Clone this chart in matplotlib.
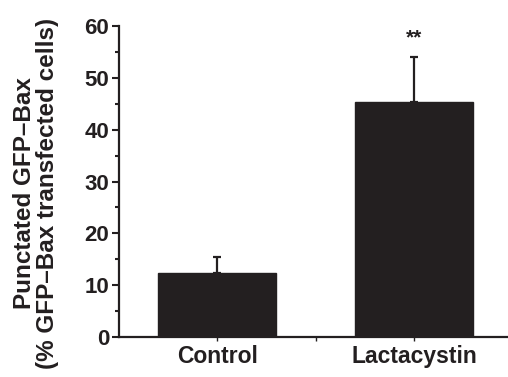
import numpy as np
import matplotlib.pyplot as plt
from matplotlib.ticker import MultipleLocator

plt.rcParams['font.family'] = ['Liberation Sans', 'DejaVu Sans']
plt.rcParams['font.weight'] = 'bold'
plt.rcParams['axes.labelweight'] = 'bold'

# data
groups = ["Control", "Lactacystin"]
means = [12.3, 45.4]
errs = [3.2, 8.6]
stars = ["", "**"]

fig = plt.figure(figsize=(5.08, 3.77), dpi=100)
ax = fig.add_axes([0.234, 0.106, 0.764, 0.825])

x = np.arange(len(groups))
col = "#231f20"
ax.bar(x, means, width=0.6, color=col, edgecolor=col, zorder=2)
ax.errorbar(x, means, yerr=[np.zeros(len(errs)), errs], fmt="none",
            ecolor=col, elinewidth=1.6, capsize=3, capthick=1.6, zorder=1)
for xi, m, e, s in zip(x, means, errs, stars):
    if s:
        ax.text(xi, m + e + 1.8, s, ha="center", va="bottom", fontsize=15, color=col)

ax.set_xlim(-0.5, 1.47)
ax.set_ylim(0, 60)
ax.yaxis.set_major_locator(MultipleLocator(10))
ax.yaxis.set_minor_locator(MultipleLocator(5))
ax.set_xticks([0, 0.5, 1])
ax.set_xticklabels(["Control", "", "Lactacystin"])
ax.tick_params(axis="x", length=3, width=1, labelsize=16.5, pad=3, colors=col)
ax.tick_params(axis="y", which="major", length=5, width=1.5, labelsize=16, pad=2, colors=col)
ax.tick_params(axis="y", which="minor", length=3, width=1.5, colors=col)
for sp in ["top", "right"]:
    ax.spines[sp].set_visible(False)
for sp in ["left", "bottom"]:
    ax.spines[sp].set_linewidth(1.6)
    ax.spines[sp].set_color(col)

ax.set_ylabel("Punctated GFP\u2013Bax\n(% GFP\u2013Bax transfected cells)",
              fontsize=17.5, linespacing=1.0, color=col)
ax.yaxis.set_label_coords(-0.155, 0.463)

fig.savefig("out.png", dpi=100)
